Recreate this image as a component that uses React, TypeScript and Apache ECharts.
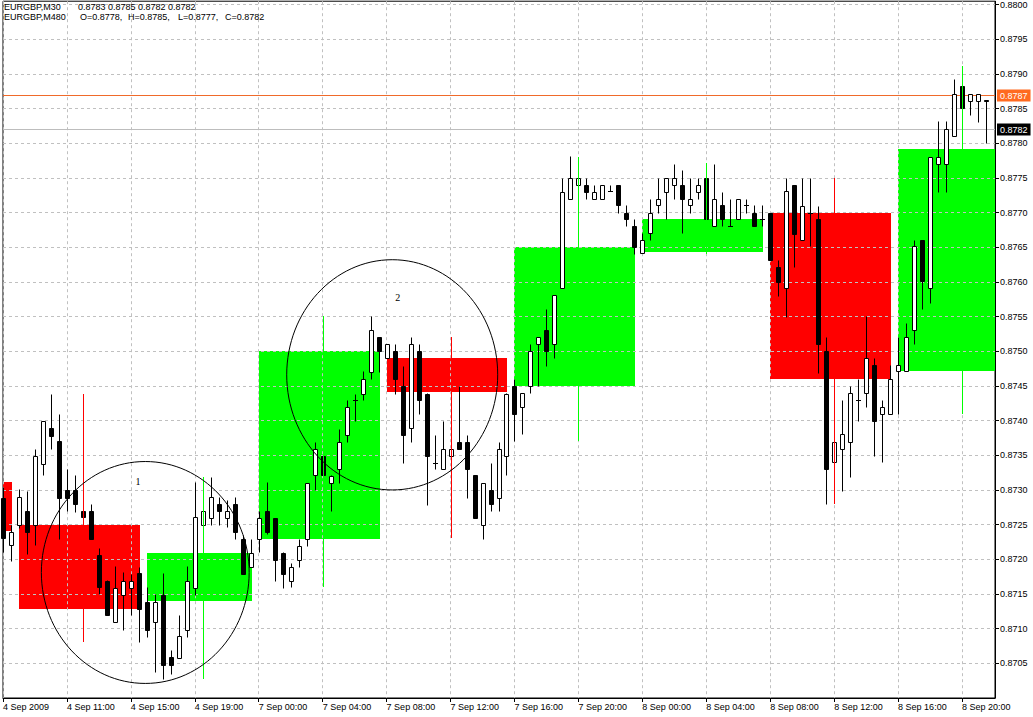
import React, { useEffect, useRef } from "react";
import * as echarts from "echarts";

// x axis labels, one every 8 bars (4 hours of M30)
const timeLabels = [
  "4 Sep 2009", "4 Sep 11:00", "4 Sep 15:00", "4 Sep 19:00",
  "7 Sep 00:00", "7 Sep 04:00", "7 Sep 08:00", "7 Sep 12:00",
  "7 Sep 16:00", "7 Sep 20:00", "8 Sep 00:00", "8 Sep 04:00",
  "8 Sep 08:00", "8 Sep 12:00", "8 Sep 16:00", "8 Sep 20:00",
];

const priceTicks = [
  0.8705, 0.871, 0.8715, 0.872, 0.8725, 0.873, 0.8735, 0.874, 0.8745, 0.875,
  0.8755, 0.876, 0.8765, 0.877, 0.8775, 0.878, 0.8785, 0.879, 0.8795, 0.88,
];

// EURGBP M30 bars: [open, high, low, close]
const m30 = [
  [0.87289, 0.87304, 0.8721, 0.8723], [0.8722, 0.8725, 0.87198, 0.87239],
  [0.87249, 0.87301, 0.87245, 0.8729], [0.8727, 0.87299, 0.87208, 0.87239],
  [0.87249, 0.87359, 0.8722, 0.87349], [0.87338, 0.874, 0.87321, 0.874],
  [0.8739, 0.87438, 0.87359, 0.87378], [0.8737, 0.87409, 0.87229, 0.87289],
  [0.873, 0.8733, 0.8727, 0.87289], [0.873, 0.87321, 0.87268, 0.8728],
  [0.8727, 0.87272, 0.87259, 0.87261], [0.8727, 0.8728, 0.87229, 0.87229],
  [0.87206, 0.87217, 0.8715, 0.8716], [0.87169, 0.8717, 0.87119, 0.87119],
  [0.87109, 0.87191, 0.87109, 0.87159], [0.87149, 0.87181, 0.87098, 0.87169],
  [0.87159, 0.87179, 0.87119, 0.87169], [0.8718, 0.87189, 0.87081, 0.87129],
  [0.87139, 0.8716, 0.87088, 0.87098], [0.87109, 0.8715, 0.87038, 0.87139],
  [0.87149, 0.8718, 0.87028, 0.87047], [0.87059, 0.87069, 0.87035, 0.87047],
  [0.87058, 0.87119, 0.87058, 0.87089], [0.87098, 0.8719, 0.87088, 0.87169],
  [0.87159, 0.87311, 0.87148, 0.87261], [0.8725, 0.87285, 0.8725, 0.8727],
  [0.8726, 0.87318, 0.87249, 0.8729], [0.8728, 0.8729, 0.8725, 0.8727],
  [0.8726, 0.87285, 0.87246, 0.8727], [0.8728, 0.8729, 0.87229, 0.87239],
  [0.87229, 0.87235, 0.87179, 0.87179], [0.87189, 0.87229, 0.87189, 0.87209],
  [0.87229, 0.8727, 0.8721, 0.8726], [0.8727, 0.87311, 0.87236, 0.87239],
  [0.8726, 0.8726, 0.87169, 0.87199], [0.87209, 0.8721, 0.87159, 0.87179],
  [0.87169, 0.87195, 0.8716, 0.87189], [0.87199, 0.87229, 0.87189, 0.87219],
  [0.87229, 0.8731, 0.87219, 0.8731], [0.87321, 0.87369, 0.873, 0.87359],
  [0.87349, 0.87359, 0.8731, 0.87321], [0.8731, 0.87321, 0.87269, 0.8732],
  [0.8733, 0.87388, 0.8731, 0.87369], [0.87379, 0.87429, 0.87369, 0.87419],
  [0.8743, 0.87438, 0.874, 0.8743], [0.87439, 0.87471, 0.8743, 0.8746],
  [0.8747, 0.87551, 0.8746, 0.8753], [0.87521, 0.87521, 0.8747, 0.87501],
  [0.8749, 0.8751, 0.8749, 0.8751], [0.87501, 0.8751, 0.87439, 0.8746],
  [0.8745, 0.87479, 0.87339, 0.87379], [0.87389, 0.87521, 0.87369, 0.8751],
  [0.87501, 0.8751, 0.87409, 0.8743], [0.87439, 0.8744, 0.87279, 0.87349],
  [0.87339, 0.87379, 0.8733, 0.87339], [0.8733, 0.874, 0.8733, 0.87359],
  [0.87349, 0.8736, 0.87345, 0.87359], [0.87369, 0.8745, 0.87359, 0.87359],
  [0.87369, 0.87379, 0.87289, 0.8733], [0.87321, 0.87321, 0.8726, 0.8726],
  [0.8725, 0.8731, 0.87229, 0.8731], [0.873, 0.87339, 0.87269, 0.8728],
  [0.87289, 0.87369, 0.87269, 0.87359], [0.87349, 0.8744, 0.87321, 0.87439],
  [0.8745, 0.8746, 0.87371, 0.87409], [0.87419, 0.8744, 0.8738, 0.8744],
  [0.8745, 0.8751, 0.8744, 0.87501], [0.8751, 0.8752, 0.8745, 0.8752],
  [0.8753, 0.87561, 0.87479, 0.87501], [0.8751, 0.87581, 0.8749, 0.87581],
  [0.87591, 0.8775, 0.87591, 0.8773], [0.8772, 0.87781, 0.8772, 0.8775],
  [0.8774, 0.8775, 0.8774, 0.8775], [0.8774, 0.8775, 0.8772, 0.8773],
  [0.8772, 0.8774, 0.8772, 0.8773], [0.8772, 0.8774, 0.8772, 0.8774],
  [0.87731, 0.8774, 0.87731, 0.87731], [0.8774, 0.8774, 0.877, 0.87711],
  [0.877, 0.87711, 0.87681, 0.8769], [0.87681, 0.8769, 0.8764, 0.87651],
  [0.87642, 0.87671, 0.87642, 0.87661], [0.87671, 0.8772, 0.87661, 0.877],
  [0.87711, 0.8775, 0.877, 0.8772], [0.8773, 0.8775, 0.8769, 0.8775],
  [0.8774, 0.8777, 0.8772, 0.8775], [0.8774, 0.87761, 0.87671, 0.8772],
  [0.87711, 0.8775, 0.877, 0.8772], [0.8773, 0.8775, 0.8772, 0.8774],
  [0.8775, 0.87755, 0.8768, 0.8769], [0.87681, 0.8777, 0.87681, 0.8772],
  [0.87711, 0.8773, 0.87681, 0.8769], [0.87681, 0.8772, 0.87681, 0.87681],
  [0.8769, 0.8772, 0.8769, 0.8772], [0.87711, 0.8772, 0.877, 0.87711],
  [0.877, 0.87711, 0.87681, 0.87681], [0.8769, 0.87711, 0.87681, 0.8769],
  [0.877, 0.877, 0.87631, 0.87631], [0.87621, 0.87631, 0.8758, 0.876],
  [0.87591, 0.8775, 0.8755, 0.87731], [0.8774, 0.8774, 0.87621, 0.87669],
  [0.87661, 0.8775, 0.87661, 0.8771], [0.877, 0.8775, 0.87652, 0.877],
  [0.8769, 0.8771, 0.87469, 0.8751], [0.87501, 0.87521, 0.8728, 0.8733],
  [0.8734, 0.8737, 0.87285, 0.87369], [0.87359, 0.8743, 0.87299, 0.8738],
  [0.87369, 0.8745, 0.87319, 0.8744], [0.8743, 0.8746, 0.874, 0.8743],
  [0.8744, 0.87551, 0.87419, 0.8749], [0.8748, 0.8749, 0.87349, 0.874],
  [0.87409, 0.8743, 0.8734, 0.87419], [0.87409, 0.8748, 0.87409, 0.8746],
  [0.87471, 0.87521, 0.87409, 0.8748], [0.87471, 0.87541, 0.87471, 0.87521],
  [0.8753, 0.87661, 0.8751, 0.87652], [0.87661, 0.87661, 0.87561, 0.87601],
  [0.87591, 0.8778, 0.87569, 0.8778], [0.8777, 0.87832, 0.8773, 0.8778],
  [0.8777, 0.87832, 0.8773, 0.87821], [0.87811, 0.87892, 0.87811, 0.87871],
  [0.87882, 0.87885, 0.87851, 0.87851], [0.87861, 0.87871, 0.8784, 0.87871],
  [0.87861, 0.87871, 0.87831, 0.87871], [0.87862, 0.87862, 0.878, 0.87861],
];

// M480 sessions: [first bar, last bar, open, high, low, close]
const m480 = [
  [-14, 1, 0.87311, 0.87311, 0.87241, 0.87241],
  [2, 17, 0.8725, 0.87438, 0.87081, 0.87129],
  [18, 31, 0.8714, 0.87318, 0.87028, 0.87209],
  [32, 47, 0.8723, 0.87551, 0.8716, 0.87501],
  [48, 63, 0.8749, 0.8752, 0.87231, 0.87441],
  [64, 79, 0.8745, 0.8778, 0.87371, 0.87651],
  [80, 95, 0.87642, 0.87772, 0.8764, 0.8769],
  [96, 111, 0.877, 0.8775, 0.8728, 0.87461],
  [112, 127, 0.87471, 0.87911, 0.87409, 0.87791],
];

// current price lines: [price, line colour, label background]
const priceLines: [number, string, string][] = [
  [0.8787, "#F06A2A", "#FF6A20"],
  [0.8782, "#BDBDBD", "#000000"],
];

// drawn ellipses: [centre bar, centre price, radius in bars, radius in price]
const ellipses = [
  [17.8, 0.87181, 13, 0.0016],
  [48.7, 0.87466, 13.2, 0.00166],
];
const ellipseLabels: [number, number, string][] = [
  [16.9, 0.87312, "1"],
  [49.4, 0.87577, "2"],
];

const headerLine1 = ["EURGBP,M30", "0.8783 0.8785 0.8782 0.8782"];
const headerLine2 = ["EURGBP,M480", "O=0.8778,", "H=0.8785,", "L=0.8777,", "C=0.8782"];

const FONT = '"Liberation Sans", Arial, sans-serif';
const GRID_LINE = { color: "#C0C0C0", width: 1, type: [3, 3] as number[] };

const candleItem = (params: any, api: any) => {
  const i = api.value(0);
  const o = api.value(1);
  const c = api.value(4);
  const [xo, yo] = api.coord([i, o]);
  const yh = api.coord([i, api.value(2)])[1];
  const yl = api.coord([i, api.value(3)])[1];
  const yc = api.coord([i, c])[1];
  const x = Math.round(xo) + 0.5;
  const top = Math.round(Math.min(yo, yc)) + 0.5;
  const bot = Math.round(Math.max(yo, yc)) + 0.5;
  const children: any[] = [
    {
      type: "line",
      shape: { x1: x, y1: Math.round(yh) + 0.5, x2: x, y2: Math.round(yl) + 0.5 },
      style: { stroke: "#000", lineWidth: 1 },
    },
  ];
  if (bot - top >= 1) {
    children.push({
      type: "rect",
      shape: { x: x - 2, y: top, width: 4, height: bot - top },
      style: { fill: c >= o ? "#fff" : "#000", stroke: "#000", lineWidth: 1 },
    });
  } else {
    children.push({
      type: "line",
      shape: { x1: x - 2.5, y1: top, x2: x + 2.5, y2: top },
      style: { stroke: "#000", lineWidth: 1 },
    });
  }
  return { type: "group", children };
};

const boxItem = (params: any, api: any) => {
  const cs = params.coordSys;
  const x1 = Math.round(Math.max(api.coord([api.value(0), 0.875])[0], cs.x));
  const x2 = Math.round(Math.min(api.coord([api.value(1), 0.875])[0], cs.x + cs.width));
  const yo = api.coord([0, api.value(2)])[1];
  const yc = api.coord([0, api.value(5)])[1];
  const up = api.value(5) >= api.value(2);
  return {
    type: "rect",
    shape: {
      x: x1,
      y: Math.round(Math.min(yo, yc)),
      width: x2 - x1 + 1,
      height: Math.round(Math.abs(yc - yo)),
    },
    style: { fill: up ? "#00FF00" : "#FF0000" },
  };
};

const boxWickItem = (params: any, api: any) => {
  const mid = Math.round((api.value(0) + api.value(1)) / 2);
  if (mid < 0) return { type: "group", children: [] };
  const up = api.value(5) >= api.value(2);
  const [xm, yh] = api.coord([mid, api.value(3)]);
  const yl = api.coord([mid, api.value(4)])[1];
  const x = Math.round(xm) + 0.5;
  return {
    type: "line",
    shape: { x1: x, y1: Math.round(yh), x2: x, y2: Math.round(yl) },
    style: { stroke: up ? "#00FF00" : "#FF0000", lineWidth: 1 },
  };
};

const priceLineItem = (params: any, api: any) => {
  const cs = params.coordSys;
  const [price, lineColor, labelBg] = priceLines[params.dataIndex];
  const y = Math.round(api.coord([0, price])[1]) + 0.5;
  return {
    type: "group",
    children: [
      {
        type: "line",
        shape: { x1: cs.x, y1: y, x2: cs.x + cs.width, y2: y },
        style: { stroke: lineColor, lineWidth: 1 },
      },
      {
        type: "text",
        style: {
          text: price.toFixed(4),
          x: cs.x + cs.width + 2,
          y,
          align: "left",
          verticalAlign: "middle",
          fontSize: 9,
          fontFamily: FONT,
          fill: "#fff",
          backgroundColor: labelBg,
          padding: [2, 3, 1, 3],
        },
      },
    ],
  };
};

const ellipseItem = (params: any, api: any) => {
  const [bx, py, rb, rp] = ellipses[params.dataIndex];
  const [cx, cy] = api.coord([bx, py]);
  const [rx, ry] = api.size([rb, rp]);
  return {
    type: "ellipse",
    shape: { cx, cy, rx, ry },
    style: { fill: "none", stroke: "#000", lineWidth: 1 },
  };
};

const ellipseLabelItem = (params: any, api: any) => {
  const [bx, py, txt] = ellipseLabels[params.dataIndex];
  const [x, y] = api.coord([bx, py]);
  return {
    type: "text",
    style: {
      text: txt,
      x,
      y,
      align: "center",
      verticalAlign: "middle",
      fontSize: 10,
      fontFamily: '"Liberation Serif", serif',
      fill: "#000",
    },
  };
};

const headerText = (text: string, x: number, y: number) => ({
  type: "text",
  x,
  y,
  z: 10,
  style: { text, fill: "#000", fontSize: 9, fontFamily: FONT, verticalAlign: "top" },
});

const labelBars = timeLabels.map((_, k) => k * 8);

const App = () => {
  const chartRef = useRef<HTMLDivElement>(null);

  useEffect(() => {
    if (!chartRef.current) return;
    const chart = echarts.init(chartRef.current, null, { renderer: "svg" });

    const option: any = {
      animation: false,
      backgroundColor: "#fff",
      grid: {
        left: 2,
        right: 38,
        top: 0,
        bottom: 19,
        show: true,
        backgroundColor: "#fff",
        borderColor: "#000",
        borderWidth: 1,
      },
      xAxis: {
        type: "value",
        min: 0,
        max: 124.125,
        interval: 4,
        z: 2,
        axisLine: { show: true, onZero: false, lineStyle: { color: "#000", width: 1 } },
        axisTick: { show: true, length: 4, lineStyle: { color: "#000" }, customValues: labelBars },
        axisLabel: {
          customValues: labelBars,
          formatter: (v: number) => timeLabels[Math.round(v / 8)] ?? "",
          align: "left",
          margin: 4,
          fontSize: 9,
          fontFamily: FONT,
          color: "#000",
        },
        splitLine: { show: true, lineStyle: GRID_LINE },
      },
      yAxis: {
        type: "value",
        position: "right",
        min: 0.87,
        max: 0.8800475,
        interval: 0.0005,
        z: 2,
        axisLine: { show: true, onZero: false, lineStyle: { color: "#000", width: 1 } },
        axisTick: { show: true, length: 4, lineStyle: { color: "#000" }, customValues: priceTicks },
        axisLabel: {
          customValues: priceTicks,
          formatter: (v: number) => v.toFixed(4),
          margin: 5,
          fontSize: 9,
          fontFamily: FONT,
          color: "#000",
          verticalAlign: "middle",
          verticalAlignMaxLabel: "middle",
          verticalAlignMinLabel: "middle",
        },
        splitLine: { show: true, lineStyle: GRID_LINE },
      },
      graphic: [
        headerText(headerLine1[0], 4, 2),
        headerText(headerLine1[1], 78, 2),
        headerText(headerLine2[0], 4, 12),
        headerText(headerLine2[1], 80, 12),
        headerText(headerLine2[2], 128, 12),
        headerText(headerLine2[3], 178, 12),
        headerText(headerLine2[4], 225, 12),
      ],
      series: [
        {
          type: "custom",
          name: "M480",
          z: 1,
          silent: true,
          renderItem: boxItem,
          data: m480,
        },
        {
          type: "custom",
          name: "price lines",
          z: 3,
          silent: true,
          clip: false,
          renderItem: priceLineItem,
          data: priceLines.map((p) => [0, p[0]]),
        },
        {
          type: "custom",
          name: "M30",
          z: 3,
          silent: true,
          renderItem: candleItem,
          encode: { x: 0, y: [1, 2, 3, 4] },
          data: m30.map((r, i) => [i, ...r]),
        },
        {
          type: "custom",
          name: "M480 wick",
          z: 4,
          silent: true,
          renderItem: boxWickItem,
          data: m480,
        },
        {
          type: "custom",
          name: "ellipses",
          z: 5,
          silent: true,
          renderItem: ellipseItem,
          data: ellipses,
        },
        {
          type: "custom",
          name: "ellipse labels",
          z: 5,
          silent: true,
          renderItem: ellipseLabelItem,
          data: ellipseLabels.map((l) => [l[0], l[1]]),
        },
      ],
    };

    chart.setOption(option);

    return () => {
      chart.dispose();
    };
  }, []);

  return (
    <div
      ref={chartRef}
      style={{ position: "fixed", left: 0, top: 0, width: 1033, height: 717 }}
    />
  );
};

export default App;
